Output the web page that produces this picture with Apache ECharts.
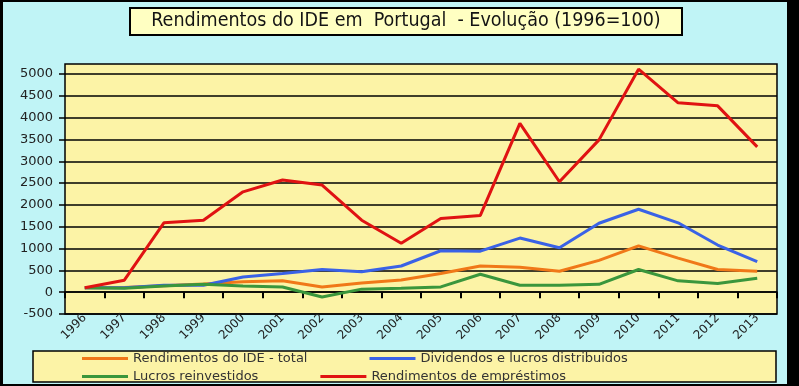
<!DOCTYPE html>
<html>
<head>
<meta charset="utf-8">
<script src="https://cdn.jsdelivr.net/npm/echarts@6/dist/echarts.min.js"></script>
<style>html,body{margin:0;padding:0;background:#000;}#c{width:799px;height:386px;}</style>
</head>
<body>
<div id="c"></div>
<script>
const titleText = 'Rendimentos do IDE em  Portugal  - Evolução (1996=100)';
const years = ['1996','1997','1998','1999','2000','2001','2002','2003','2004','2005','2006','2007','2008','2009','2010','2011','2012','2013'];
const seriesNames = ['Rendimentos do IDE - total','Dividendos e lucros distribuidos','Lucros reinvestidos','Rendimentos de empréstimos'];
const totalIDE   = [100, 110, 150, 190, 240, 260, 120, 210, 280, 430, 600, 570, 480, 730, 1060, 780, 520, 480];
const dividendos = [100, 100, 160, 160, 350, 430, 520, 470, 600, 950, 940, 1240, 1020, 1580, 1900, 1590, 1080, 700];
const reinvest   = [100, 90, 140, 180, 140, 120, -110, 70, 90, 120, 410, 160, 160, 180, 520, 260, 200, 320];
const emprestimos= [100, 275, 1590, 1650, 2300, 2570, 2455, 1650, 1120, 1690, 1760, 3870, 2530, 3490, 5110, 4340, 4270, 3330];
const yTicks = {min: -500, max: 5000, interval: 500};
const colors = ['#f07818', '#3a62e6', '#3a963c', '#e01212'];

const chart = echarts.init(document.getElementById('c'), null, {renderer: 'canvas'});
const font = 'DejaVu Sans';
const dataArr = [totalIDE, dividendos, reinvest, emprestimos];
const legendText = {fontFamily: font, fontSize: 13, color: '#333', width: 258};
chart.setOption({
  backgroundColor: '#000',
  animation: false,
  graphic: [
    {type: 'rect', z: -100, shape: {x: 3, y: 2, width: 784, height: 382}, style: {fill: '#c0f4f6'}},
    {type: 'rect', z: -90, shape: {x: 65, y: 64, width: 712, height: 250}, style: {fill: '#fcf3a6', stroke: '#000', lineWidth: 1.5}},
    {type: 'rect', z: -90, shape: {x: 130, y: 8, width: 552, height: 27}, style: {fill: '#ffffc2', stroke: '#000', lineWidth: 2}},
    {type: 'rect', z: -90, shape: {x: 33, y: 351, width: 743, height: 31}, style: {fill: '#fcf3a6', stroke: '#000', lineWidth: 1.5}}
  ],
  title: {
    text: titleText, left: 406, top: 11, padding: 0, textAlign: 'center',
    textStyle: {fontFamily: 'DejaVu Sans Condensed', fontSize: 19.5, fontWeight: 'normal', color: '#141414'}
  },
  legend: [
    {data: [seriesNames[0], seriesNames[1]], left: 77, top: 347, itemWidth: 46, itemHeight: 3, itemGap: 62, icon: 'rect', textStyle: legendText},
    {data: [seriesNames[2], seriesNames[3]], left: 77, top: 365, itemWidth: 46, itemHeight: 3, itemGap: 62, icon: 'rect', textStyle: legendText}
  ],
  grid: {left: 65, right: 22, top: 74, bottom: 72, containLabel: false},
  xAxis: [
    {type: 'category', data: years, boundaryGap: true, position: 'bottom',
     axisLine: {onZero: false, show: false}, axisTick: {show: false},
     axisLabel: {rotate: 45, margin: 2, fontFamily: font, fontSize: 12, color: '#222'}},
    {type: 'category', data: years, boundaryGap: true, position: 'bottom',
     axisLine: {onZero: true, show: true, lineStyle: {color: '#000', width: 1.5}},
     axisTick: {show: true, length: 6, lineStyle: {color: '#000', width: 2}},
     axisLabel: {show: false}}
  ],
  yAxis: {
    type: 'value', min: yTicks.min, max: yTicks.max, interval: yTicks.interval,
    axisLine: {show: false},
    axisTick: {show: true, length: 6, lineStyle: {color: '#000', width: 1.5}},
    splitLine: {show: true, lineStyle: {color: '#000', width: 1.5}},
    axisLabel: {margin: 12, fontFamily: font, fontSize: 13, color: '#222', formatter: v => String(v)}
  },
  series: seriesNames.map((n, i) => ({
    name: n, type: 'line', data: dataArr[i], xAxisIndex: 0, showSymbol: false, symbol: 'none', clip: false,
    lineStyle: {width: 3, color: colors[i]}, itemStyle: {color: colors[i]}, z: i === 3 ? 5 : 3
  }))
});
</script>
</body>
</html>
